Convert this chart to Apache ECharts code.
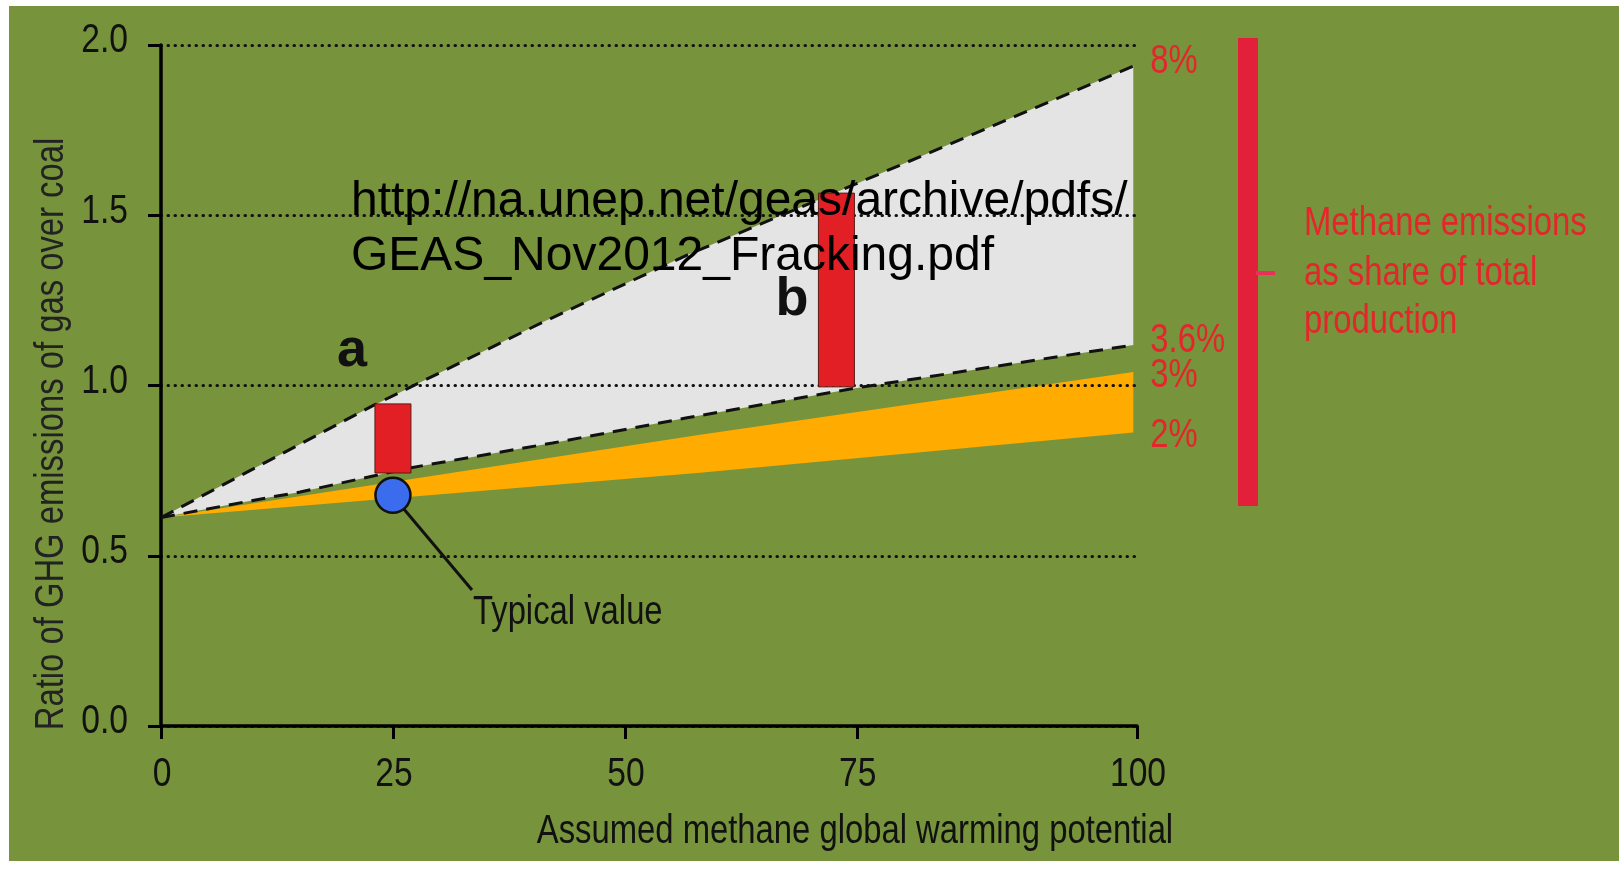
<!DOCTYPE html>
<html><head><meta charset="utf-8">
<script src="https://cdn.jsdelivr.net/npm/echarts@6/dist/echarts.min.js"></script>
<style>html,body{margin:0;padding:0;background:#fff}#c{width:1619px;height:871px}</style>
</head><body><div id="c"></div>
<script>
// ---- data ----
const xTickValues = [0, 25, 50, 75, 105.2];
const xTickLabels = ['0', '25', '50', '75', '100'];
const yTickValues = [0, 0.5, 1, 1.5, 2];
const yTickLabels = ['0.0', '0.5', '1.0', '1.5', '2.0'];

const line8X  = [0, 23, 41, 56.7, 74.9, 104.8];
const line8Y  = [0.612, 0.943, 1.184, 1.383, 1.592, 1.938];
const line36X = [0, 11.4, 15, 26.8, 42.2, 56.7, 75, 104.8];
const line36Y = [0.612, 0.670, 0.687, 0.758, 0.831, 0.905, 0.993, 1.119];
const line3X  = [0, 58.1, 104.8];
const line3Y  = [0.612, 0.855, 1.040];
const line2X  = [0, 58.1, 104.8];
const line2Y  = [0.612, 0.744, 0.862];

const barX    = [25, 72.8];
const barLow  = [0.743, 0.996];
const barHigh = [0.946, 1.565];
const barNames = ['a', 'b'];

const typicalX = [25];
const typicalY = [0.678];

const shareLabels = ['8%', '3.6%', '3%', '2%'];
const yAxisTitle = 'Ratio of GHG emissions of gas over coal';
const xAxisTitle = 'Assumed methane global warming potential';
const sideTitle = ['Methane emissions', 'as share of total', 'production'];
const urlLines = ['http://na.unep.net/geas/archive/pdfs/', 'GEAS_Nov2012_Fracking.pdf'];

// ---- helpers ----
const zip = (xs, ys) => xs.map((x, i) => [x, ys[i]]);
const ARIAL = "'Liberation Sans',Arial,sans-serif";
const NARROW_SCALE = 0.82;
const RED = '#e4262c';

function bandRenderer(upX, upY, loX, loY, color) {
  return function (params, api) {
    const pts = [];
    for (let i = 0; i < upX.length; i++) pts.push(api.coord([upX[i], upY[i]]));
    for (let i = loX.length - 1; i >= 0; i--) pts.push(api.coord([loX[i], loY[i]]));
    return { type: 'polygon', shape: { points: pts }, style: { fill: color } };
  };
}

// narrow (condensed) text: Arial-metric font squeezed horizontally
function narrowText(text, x, y, size, color, align, vAlign, extra) {
  return Object.assign({
    type: 'text', x: x, y: y, z: 20, scaleX: NARROW_SCALE,
    style: { text: text, fontSize: size, fontFamily: ARIAL, fill: color,
             textAlign: align, textVerticalAlign: vAlign }
  }, extra || {});
}

const chart = echarts.init(document.getElementById('c'), null, { renderer: 'canvas' });
chart.setOption({
  animation: false,
  backgroundColor: '#77933c',
  grid: { left: 161, right: 482, top: 45, bottom: 145, containLabel: false },
  xAxis: {
    type: 'value', min: 0, max: 105.2, z: 3,
    axisLine: { show: true, lineStyle: { color: '#000', width: 3.5 } },
    axisTick: { show: true, length: 13, customValues: xTickValues, lineStyle: { color: '#000', width: 3 } },
    axisLabel: { show: false },
    splitLine: { show: false }
  },
  yAxis: {
    type: 'value', min: yTickValues[0], max: yTickValues[yTickValues.length - 1], interval: 0.5, z: 3,
    axisLine: { show: true, lineStyle: { color: '#000', width: 3.5 } },
    axisTick: { show: true, length: 13, lineStyle: { color: '#000', width: 3 } },
    axisLabel: { show: false },
    splitLine: { show: true, lineStyle: { color: '#111', width: 3, type: [0.5, 6.5], cap: 'round' } }
  },
  series: [
    { type: 'custom', name: 'range36to8', z: 1, data: [[0, 0]], silent: true,
      renderItem: bandRenderer(line8X, line8Y, line36X, line36Y, '#e4e4e4') },
    { type: 'custom', name: 'range2to3', z: 1, data: [[0, 0]], silent: true,
      renderItem: bandRenderer(line3X, line3Y, line2X, line2Y, '#ffab00') },
    { type: 'line', name: shareLabels[0], z: 4, symbol: 'none', data: zip(line8X, line8Y),
      lineStyle: { color: '#111', width: 3, type: [14, 9] } },
    { type: 'line', name: shareLabels[1], z: 4, symbol: 'none', data: zip(line36X, line36Y),
      lineStyle: { color: '#111', width: 3, type: [14, 9] } },
    { type: 'custom', name: 'bars', z: 5,
      data: barX.map((x, i) => [x, barLow[i], barHigh[i]]),
      encode: { x: 0, y: [1, 2] },
      renderItem: function (params, api) {
        const top = api.coord([api.value(0), api.value(2)]);
        const bot = api.coord([api.value(0), api.value(1)]);
        return { type: 'rect', shape: { x: top[0] - 18, y: top[1], width: 36, height: bot[1] - top[1] },
                 style: { fill: '#e31f26', stroke: '#5a1a12', lineWidth: 1 } };
      } },
    { type: 'scatter', name: 'Typical value', z: 6, symbolSize: 35, data: zip(typicalX, typicalY),
      itemStyle: { color: '#3c6cee', borderColor: '#111', borderWidth: 2.5, opacity: 1 } }
  ]
});

// ---- texts placed through the chart's own scales ----
const toPx = (x, y) => chart.convertToPixel({ gridIndex: 0 }, [x, y]);
const g = [
  { type: 'rect', shape: { x: 0, y: 0, width: 1619, height: 6 }, style: { fill: '#fff' }, z: 100 },
  { type: 'rect', shape: { x: 0, y: 0, width: 9, height: 871 }, style: { fill: '#fff' }, z: 100 },
  { type: 'rect', shape: { x: 0, y: 861, width: 1619, height: 10 }, style: { fill: '#fff' }, z: 100 },
  { type: 'rect', shape: { x: 1238, y: 38, width: 20, height: 468 }, style: { fill: '#e3203a' }, z: 10 },
  { type: 'rect', shape: { x: 1256, y: 271, width: 19, height: 4 }, style: { fill: '#ec2f5a' }, z: 10 },
  { type: 'line', shape: { x1: 403, y1: 508, x2: 472, y2: 590 }, style: { stroke: '#111', lineWidth: 3 }, z: 5 },
  narrowText('Typical value', 473, 613, 40, '#111', 'left', 'middle'),
  { type: 'text', x: 352, y: 351, z: 20, style: { text: barNames[0], fontSize: 54, fontWeight: 'bold', fontFamily: ARIAL,
      fill: '#111', textAlign: 'center', textVerticalAlign: 'middle' } },
  { type: 'text', x: 792, y: 300, z: 20, style: { text: barNames[1], fontSize: 54, fontWeight: 'bold', fontFamily: ARIAL,
      fill: '#111', textAlign: 'center', textVerticalAlign: 'middle' } },
  { type: 'text', x: 351, y: 202, z: 30, style: { text: urlLines[0], fontSize: 48, fontFamily: ARIAL,
      fill: '#000', textAlign: 'left', textVerticalAlign: 'middle' } },
  { type: 'text', x: 351, y: 257, z: 30, style: { text: urlLines[1], fontSize: 48, fontFamily: ARIAL,
      fill: '#000', textAlign: 'left', textVerticalAlign: 'middle' } },
  narrowText(sideTitle[0], 1304, 224, 40, RED, 'left', 'middle'),
  narrowText(sideTitle[1], 1304, 274, 40, RED, 'left', 'middle'),
  narrowText(sideTitle[2], 1304, 322, 40, RED, 'left', 'middle'),
  narrowText(yAxisTitle, 52, 434, 40, '#222', 'center', 'middle', { rotation: Math.PI / 2 }),
  narrowText(xAxisTitle, 855, 832, 40, '#111', 'center', 'middle')
];
yTickValues.forEach((v, i) => {
  const p = toPx(0, v);
  g.push(narrowText(yTickLabels[i], p[0] - 33, p[1] - 4, 41, '#111', 'right', 'middle'));
});
xTickValues.forEach((v, i) => {
  const p = toPx(v, 0);
  g.push(narrowText(xTickLabels[i], p[0] + 1, p[1] + 49, 41, '#111', 'center', 'middle'));
});
const ends = [
  [line8X, line8Y, -4], [line36X, line36Y, -4], [line3X, line3Y, 4], [line2X, line2Y, 3]
];
ends.forEach((e, i) => {
  const n = e[0].length - 1;
  const p = toPx(e[0][n], e[1][n]);
  g.push(narrowText(shareLabels[i], p[0] + 17, p[1] + e[2], 40, RED, 'left', 'middle'));
});
chart.setOption({ graphic: g });
</script>
</body></html>
